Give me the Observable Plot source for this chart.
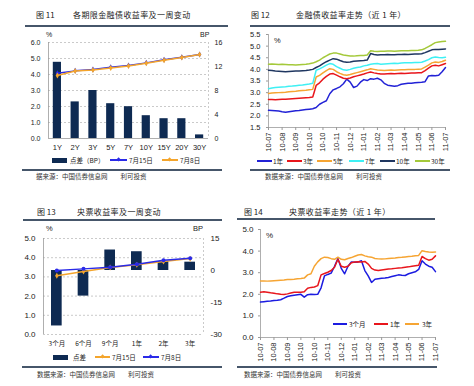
<!DOCTYPE html>
<html><head><meta charset="utf-8">
<script src="https://cdn.jsdelivr.net/npm/d3@7"></script>
<script src="https://cdn.jsdelivr.net/npm/@observablehq/plot@0.6"></script>
<style>
body{margin:0;background:#fff;}
#root{position:relative;width:474px;height:386px;overflow:hidden;background:#fff;font-family:"Noto Sans CJK SC",sans-serif;color:#222;}
.abs{position:absolute;white-space:nowrap;line-height:1;}
</style></head><body><div id="root"></div>
<script>
// ---------- DATA ----------
// Fig 11
const cat11 = ["1Y","2Y","3Y","5Y","7Y","10Y","15Y","20Y","30Y"];
const spread11 = [12.7, 6.1, 8.0, 5.8, 5.3, 3.8, 3.3, 3.3, 0.6];          // BP (right axis)
const yield11_0715 = [4.08, 4.23, 4.31, 4.46, 4.56, 4.73, 4.92, 5.08, 5.25]; // %
const yield11_0708 = [3.94, 4.22, 4.28, 4.41, 4.53, 4.70, 4.89, 5.06, 5.25]; // %
const ticks11Left = [0,1,2,3,4,5,6];
const ticks11Right = [0,4,8,12,16];

// Fig 12 / Fig 14 time axis (weekly points, tick every 4 weeks)
const timeTickLabels = ["10-07","10-08","10-09","10-10","10-10","10-11","10-12","11-01","11-02","11-03","11-04","11-05","11-06","11-07"];
const fin1y  = [2.24,2.23,2.22,2.21,2.18,2.16,2.18,2.20,2.22,2.23,2.25,2.27,2.29,2.31,2.36,2.50,2.58,2.65,2.95,3.12,3.18,3.25,3.38,3.58,3.45,3.22,3.28,3.45,3.56,3.52,3.60,3.58,3.62,3.55,3.40,3.32,3.30,3.27,3.30,3.36,3.38,3.40,3.40,3.42,3.44,3.45,3.47,3.72,3.74,3.73,3.75,3.90,4.08];
const fin3y  = [2.70,2.70,2.69,2.70,2.71,2.72,2.73,2.74,2.75,2.76,2.77,2.78,2.79,2.81,3.31,3.42,3.58,3.70,3.80,3.82,3.75,3.68,3.62,3.60,3.63,3.68,3.72,3.76,3.80,3.85,3.89,3.85,3.82,3.80,3.80,3.81,3.82,3.81,3.82,3.83,3.82,3.83,3.84,3.84,3.85,3.86,3.95,4.05,4.15,4.18,4.15,4.20,4.25];
const fin5y  = [2.96,2.98,2.99,3.00,3.01,3.02,3.04,3.05,3.06,3.08,3.09,3.10,3.12,3.14,3.67,3.74,3.85,3.95,4.03,4.00,3.90,3.83,3.77,3.75,3.78,3.82,3.86,3.90,3.94,3.98,4.03,4.00,3.97,3.96,3.95,3.96,3.97,3.96,3.97,3.98,3.98,3.99,4.00,4.00,4.01,4.02,4.10,4.18,4.28,4.32,4.30,4.34,4.39];
const fin7y  = [3.17,3.20,3.22,3.23,3.24,3.25,3.27,3.28,3.30,3.32,3.33,3.35,3.37,3.40,3.96,4.02,4.10,4.18,4.25,4.22,4.12,4.05,3.98,3.96,4.00,4.05,4.08,4.10,4.15,4.18,4.22,4.24,4.25,4.22,4.23,4.24,4.25,4.26,4.25,4.27,4.28,4.28,4.29,4.30,4.30,4.31,4.36,4.42,4.50,4.53,4.51,4.50,4.52];
const fin10y = [3.96,3.95,3.93,3.92,3.91,3.90,3.91,3.92,3.93,3.93,3.94,3.95,3.97,4.00,4.08,4.15,4.25,4.33,4.40,4.46,4.44,4.38,4.33,4.31,4.32,4.35,4.36,4.37,4.38,4.40,4.68,4.64,4.62,4.63,4.63,4.64,4.63,4.63,4.64,4.64,4.65,4.64,4.65,4.66,4.66,4.67,4.72,4.78,4.84,4.86,4.85,4.87,4.88];
const fin30y = [4.22,4.23,4.22,4.21,4.22,4.21,4.20,4.20,4.19,4.20,4.21,4.22,4.24,4.27,4.33,4.40,4.50,4.58,4.66,4.70,4.70,4.66,4.62,4.60,4.58,4.57,4.59,4.60,4.60,4.62,4.80,4.78,4.77,4.78,4.78,4.79,4.79,4.78,4.79,4.80,4.80,4.80,4.81,4.81,4.82,4.84,4.90,4.98,5.06,5.15,5.18,5.20,5.21];
const finNames = ["1年","3年","5年","7年","10年","30年"];
const finColors = ["#2222d6","#e8161c","#f6a533","#3ff0f4","#1f3660","#a4c93a"];

// Fig 13
const cat13 = ["3个月","6个月","9个月","1年","2年","3年"];
const spread13 = [-26, -12, 9.6, 8.8, 4.2, 3.9];                   // BP (right axis)
const yield13_0715 = [3.06, 3.28, 3.49, 3.63, 3.80, 3.95];          // %
const yield13_0708 = [3.33, 3.42, 3.50, 3.66, 3.87, 3.97];          // %
const ticks13Left = [0,1,2,3,4,5];
const ticks13Right = [-30,-15,0,15];

// Fig 14
const bill3m = [1.64,1.66,1.68,1.69,1.71,1.72,1.75,1.82,1.90,1.93,1.96,1.98,2.00,1.87,1.98,2.00,1.99,2.00,2.30,2.85,2.92,2.98,3.30,3.66,3.20,2.95,3.30,3.50,3.48,3.50,3.55,3.10,2.85,2.55,2.70,2.72,2.74,2.75,2.78,2.82,2.86,2.90,2.88,2.87,2.95,3.00,3.04,3.15,3.55,3.40,3.30,3.25,3.05];
const bill1y = [2.10,2.12,2.10,2.07,2.05,2.02,2.00,1.99,2.02,2.06,2.09,2.10,2.10,2.12,2.28,2.32,2.34,2.40,2.90,2.96,3.02,3.10,3.25,3.62,3.30,3.25,3.30,3.46,3.50,3.51,3.50,3.52,3.40,3.20,3.12,3.10,3.13,3.15,3.17,3.18,3.20,3.22,3.23,3.25,3.27,3.30,3.32,3.34,3.75,3.65,3.58,3.62,3.78];
const bill3y = [2.62,2.62,2.61,2.62,2.63,2.64,2.65,2.66,2.68,2.69,2.70,2.72,2.73,2.75,2.90,2.95,3.30,3.50,3.65,3.72,3.70,3.65,3.62,3.72,3.62,3.60,3.66,3.70,3.76,3.82,3.84,3.78,3.74,3.72,3.66,3.64,3.63,3.64,3.66,3.67,3.68,3.70,3.71,3.73,3.75,3.76,3.78,3.80,4.02,3.98,3.96,3.95,3.96];
const billNames = ["3个月","1年","3年"];
const billColors = ["#1c1ce0","#e8161c","#f6a533"];

// ---------- HELPERS ----------
const root = document.getElementById("root");
const AX = '"Liberation Sans", Arial, sans-serif';
const CJK = '"Noto Sans CJK SC", sans-serif';
const NAVY = "#0e2a52";
const RULE = "#46566a";

function text(str, x, y, size, extra) {
  const d = document.createElement("div");
  d.className = "abs";
  d.textContent = str;
  d.style.left = x + "px";
  d.style.top = (y - size / 2) + "px";
  d.style.fontSize = size + "px";
  if (extra) Object.assign(d.style, extra);
  root.appendChild(d);
  return d;
}
function hrule(x1, x2, y, color, w) {
  const d = document.createElement("div");
  d.className = "abs";
  Object.assign(d.style, {left: x1 + "px", top: (y - w / 2) + "px", width: (x2 - x1) + "px", height: w + "px", background: color});
  root.appendChild(d);
}
function swatchLine(x1, x2, y, color, marker) {
  hrule(x1, x2, y, color, 1.6);
  if (marker) {
    const m = document.createElement("div");
    m.className = "abs";
    Object.assign(m.style, {left: ((x1 + x2) / 2 - 1.6) + "px", top: (y - 1.6) + "px", width: "3.2px", height: "3.2px", background: color, transform: "rotate(45deg)"});
    root.appendChild(m);
  }
}
function swatchRect(x1, x2, y, color) {
  const d = document.createElement("div");
  d.className = "abs";
  Object.assign(d.style, {left: x1 + "px", top: (y - 2.5) + "px", width: (x2 - x1) + "px", height: "5px", background: color});
  root.appendChild(d);
}
function place(svg, left, top) {
  svg.style.position = "absolute";
  svg.style.left = left + "px";
  svg.style.top = top + "px";
  svg.style.background = "transparent";
  svg.style.overflow = "visible";
  root.appendChild(svg);
}
function title(numLabel, xNum, label, xLabel, y) {
  text(numLabel, xNum, y, 8, {fontFamily: CJK, color: "#222"});
  text(label, xLabel, y, 8, {fontFamily: CJK, color: "#222", letterSpacing: "0.4px"});
}

// ---------- FIG 11 ----------
title("图 11", 36, "各期限金融债收益率及一周变动", 73, 15);
hrule(25, 228, 26, RULE, 1.4);
text("%", 46, 34, 7, {fontFamily: AX});
text("BP", 200, 34, 7, {fontFamily: AX});
{
  const d = cat11.map((c, i) => ({i, c, bp: spread11[i], a: yield11_0715[i], b: yield11_0708[i]}));
  const k = 6 / 16; // BP -> % axis
  const svg = Plot.plot({
    width: 237, height: 130,
    marginLeft: 48, marginRight: 29, marginTop: 14, marginBottom: 20,
    x: {type: "linear", domain: [-0.5, 8.5]},
    y: {domain: [0, 6]},
    style: {fontFamily: AX, fontSize: "7px", color: "#222", background: "transparent"},
    marks: [
      Plot.ruleY(ticks11Left.slice(1), {stroke: "#bdbdbd", strokeDasharray: "2,2", strokeWidth: 0.8}),
      Plot.ruleX([8.5], {stroke: "#bdbdbd", strokeDasharray: "2,2", strokeWidth: 0.8}),
      Plot.ruleX([-0.5], {stroke: "#9a9a9a", strokeWidth: 0.8}),
      Plot.ruleY([0], {stroke: "#9a9a9a", strokeWidth: 0.8}),
      Plot.rect(d, {x1: r => r.i - 0.23, x2: r => r.i + 0.23, y1: 0, y2: r => r.bp * k, fill: NAVY}),
      Plot.line(d, {x: "i", y: "a", stroke: "#2a2ae8", strokeWidth: 1.4}),
      Plot.dot(d, {x: "i", y: "a", symbol: "diamond", r: 1.8, fill: "#2a2ae8"}),
      Plot.line(d, {x: "i", y: "b", stroke: "#f4a52c", strokeWidth: 1.4}),
      Plot.dot(d, {x: "i", y: "b", symbol: "diamond", r: 1.8, fill: "#f4a52c"}),
      Plot.axisY({anchor: "left", ticks: ticks11Left, tickFormat: v => v.toFixed(1), tickSize: 0, tickPadding: 8, label: null}),
      Plot.axisY({anchor: "right", ticks: ticks11Right.map(v => v * k), tickFormat: v => String(Math.round(v / k)), tickSize: 0, tickPadding: 6, label: null}),
      Plot.axisX({ticks: d3.range(cat11.length), tickFormat: i => cat11[i], tickSize: 0, tickPadding: 6, label: null, fontSize: 7.5})
    ]
  });
  place(svg, 0, 28);
}
swatchRect(52, 67, 160, NAVY);
text("点差（BP）", 70, 160, 6.5, {fontFamily: CJK});
swatchLine(110, 127, 160, "#2a2ae8", true);
text("7月15日", 129, 160, 6.5, {fontFamily: CJK});
swatchLine(162, 178, 160, "#f4a52c", true);
text("7月8日", 180, 160, 6.5, {fontFamily: CJK});
hrule(22, 222, 170, RULE, 1.4);
text("据来源：中国债券信息网　　利可投资", 36, 176, 6.5, {fontFamily: CJK, color: "#333"});

// ---------- FIG 12 ----------
title("图 12", 251, "金融债收益率走势（近 1 年）", 296, 15);
hrule(250, 450, 26, RULE, 1.4);
text("%", 274, 41, 7.5, {fontFamily: AX});
{
  const series = [fin1y, fin3y, fin5y, fin7y, fin10y, fin30y];
  const rows = series.flatMap((s, k) => s.map((v, w) => ({w, v, name: finNames[k]})));
  const svg = Plot.plot({
    width: 237, height: 129,
    marginLeft: 31, marginRight: 29, marginTop: 6, marginBottom: 30,
    x: {type: "linear", domain: [0, 52]},
    y: {domain: [1.5, 5.5]},
    color: {domain: finNames, range: finColors},
    style: {fontFamily: AX, fontSize: "7px", color: "#222", background: "transparent"},
    marks: [
      Plot.ruleX([0], {stroke: "#9a9a9a", strokeWidth: 0.8}),
      Plot.ruleY([1.5], {stroke: "#9a9a9a", strokeWidth: 0.8}),
      Plot.line(rows, {x: "w", y: "v", z: "name", stroke: "name", strokeWidth: 1.5}),
      Plot.axisY({anchor: "left", ticks: [1.5,2,2.5,3,3.5,4,4.5,5,5.5], tickFormat: v => v.toFixed(1), tickSize: 2, tickPadding: 6, label: null, fontSize: 7.5, stroke: "#9a9a9a"}),
      Plot.axisX({ticks: d3.range(0, 53, 4), tickFormat: w => timeTickLabels[w / 4], tickSize: 3, tickPadding: 2, tickRotate: -90, label: null, fontSize: 7.5, stroke: "#9a9a9a"})
    ]
  });
  place(svg, 237, 28);
}
{
  const lx = [257, 287, 317, 349, 380, 415];
  finNames.forEach((n, k) => {
    swatchLine(lx[k], lx[k] + 15, 161, finColors[k], false);
    text(n, lx[k] + 16, 161, 6.5, {fontFamily: CJK});
  });
}
hrule(250, 450, 170, RULE, 1.4);
text("数据来源：中国债券信息网　　利可投资", 265, 176, 6.5, {fontFamily: CJK, color: "#333"});

// ---------- FIG 13 ----------
title("图 13", 37, "央票收益率及一周变动", 77, 212);
hrule(23, 222, 220, RULE, 1.4);
text("%", 46, 229, 7.5, {fontFamily: AX});
text("BP", 193, 229, 7.5, {fontFamily: AX});
{
  const d = cat13.map((c, i) => ({i, c, bp: spread13[i], a: yield13_0715[i], b: yield13_0708[i]}));
  const toPct = bp => (bp + 30) / 9; // BP axis -> % axis
  const svg = Plot.plot({
    width: 237, height: 130,
    marginLeft: 43, marginRight: 34, marginTop: 16, marginBottom: 18,
    x: {type: "linear", domain: [-0.5, 5.5]},
    y: {domain: [0, 5]},
    style: {fontFamily: AX, fontSize: "8px", color: "#222", background: "transparent"},
    marks: [
      Plot.ruleY(ticks13Left, {stroke: "#bdbdbd", strokeDasharray: "2,2", strokeWidth: 0.8}),
      Plot.ruleX([5.5], {stroke: "#bdbdbd", strokeDasharray: "2,2", strokeWidth: 0.8}),
      Plot.ruleX([-0.5], {stroke: "#9a9a9a", strokeWidth: 0.8}),
      Plot.rect(d, {x1: r => r.i - 0.2, x2: r => r.i + 0.2, y1: toPct(0), y2: r => toPct(r.bp), fill: NAVY}),
      Plot.line(d, {x: "i", y: "a", stroke: "#f4a52c", strokeWidth: 1.4}),
      Plot.dot(d, {x: "i", y: "a", symbol: "diamond", r: 1.8, fill: "#f4a52c"}),
      Plot.line(d, {x: "i", y: "b", stroke: "#2a2ae8", strokeWidth: 1.4}),
      Plot.dot(d, {x: "i", y: "b", r: 2, fill: "#2a2ae8"}),
      Plot.axisY({anchor: "left", ticks: ticks13Left, tickFormat: v => v.toFixed(1), tickSize: 0, tickPadding: 8, label: null}),
      Plot.axisY({anchor: "right", ticks: ticks13Right.map(toPct), tickFormat: v => String(Math.round(v * 9 - 30)), tickSize: 0, tickPadding: 7, label: null}),
      Plot.axisX({ticks: d3.range(cat13.length), tickFormat: i => cat13[i], tickSize: 0, tickPadding: 7, label: null, fontFamily: CJK, fontSize: 6.5})
    ]
  });
  place(svg, 0, 222);
}
swatchRect(53, 68, 357, NAVY);
text("点差", 73, 357, 6.5, {fontFamily: CJK});
swatchLine(95, 110, 357, "#f4a52c", true);
text("7月15日", 112, 357, 6.5, {fontFamily: CJK});
swatchLine(143, 159, 357, "#2a2ae8", true);
text("7月8日", 161, 357, 6.5, {fontFamily: CJK});
hrule(22, 222, 367, RULE, 1.4);
text("数据来源：中国债券信息网　　利可投资", 37, 374, 6.5, {fontFamily: CJK, color: "#333"});

// ---------- FIG 14 ----------
title("图 14", 244, "央票收益率走势（近 1 年）", 289, 212);
hrule(237, 435, 219, RULE, 1.4);
text("%", 266, 236, 8, {fontFamily: AX});
{
  const series = [bill3m, bill1y, bill3y];
  const rows = series.flatMap((s, k) => s.map((v, w) => ({w, v, name: billNames[k]})));
  const svg = Plot.plot({
    width: 237, height: 146,
    marginLeft: 23, marginRight: 39, marginTop: 8, marginBottom: 30,
    x: {type: "linear", domain: [0, 52]},
    y: {domain: [0, 5]},
    color: {domain: billNames, range: billColors},
    style: {fontFamily: AX, fontSize: "8px", color: "#222", background: "transparent"},
    marks: [
      Plot.ruleX([0], {stroke: "#9a9a9a", strokeWidth: 0.8}),
      Plot.ruleY([0], {stroke: "#9a9a9a", strokeWidth: 0.8}),
      Plot.line(rows, {x: "w", y: "v", z: "name", stroke: "name", strokeWidth: 1.5}),
      Plot.axisY({anchor: "left", ticks: [0,1,2,3,4,5], tickFormat: v => v.toFixed(1), tickSize: 2, tickPadding: 5, label: null, stroke: "#9a9a9a"}),
      Plot.axisX({ticks: d3.range(0, 53, 4), tickFormat: w => timeTickLabels[w / 4], tickSize: 3, tickPadding: 2, tickRotate: -90, label: null, fontSize: 7.5, stroke: "#9a9a9a"})
    ]
  });
  place(svg, 237, 221);
}
{
  const lx = [333, 374, 405];
  const tx = [349, 390, 422];
  billNames.forEach((n, k) => {
    swatchLine(lx[k], lx[k] + 14, 324, billColors[k], false);
    text(n, tx[k], 324, 6.5, {fontFamily: CJK});
  });
}
hrule(237, 437, 367, RULE, 1.4);
text("数据来源：中国债券信息网　　利可投资", 244, 374, 6.5, {fontFamily: CJK, color: "#333"});
</script></body></html>
